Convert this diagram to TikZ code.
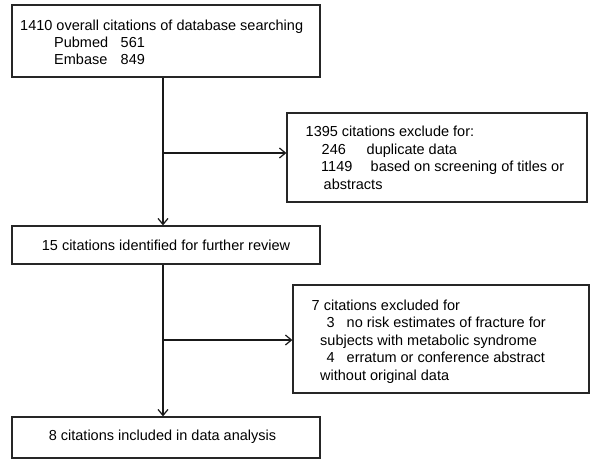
\documentclass[tikz,border=0pt]{standalone}
\usepackage{fontspec}
\setmainfont{Liberation Sans}
\usetikzlibrary{arrows.meta}
\begin{document}
\begin{tikzpicture}[x=1pt,y=-1pt,
  box/.style={draw=black!85,line width=1.3pt,inner sep=0pt,rectangle},
  txt/.style={inner sep=0pt,anchor=base west,font=\fontsize{14.5}{17.6}\selectfont},
  ctxt/.style={inner sep=0pt,anchor=base,font=\fontsize{14.5}{17.6}\selectfont},
  conn/.style={line width=1.3pt,draw=black!90,-{Straight Barb[length=6pt,width=10pt,line width=1.2pt]}}]
\useasboundingbox (0,0) rectangle (600,471);
% boxes
\node[box,minimum width=308pt,minimum height=72pt] (b1) at (166,41) {};
\node[box,minimum width=300pt,minimum height=89pt] (b2) at (437,157.5) {};
\node[box,minimum width=308pt,minimum height=38pt] (b3) at (166,245) {};
\node[box,minimum width=296pt,minimum height=108pt] (b4) at (441,339) {};
\node[box,minimum width=308pt,minimum height=41pt] (b5) at (166,437.5) {};
% box 1 text
\node[txt] (t1a) at (20,30.7) {1410 overall citations of database searching};
\node[txt] (t1b) at (54,47.7) {Pubmed};
\node[txt] (t1c) at (120.5,47.7) {561};
\node[txt] (t1d) at (54,64.7) {Embase};
\node[txt] (t1e) at (120.5,64.7) {849};
% box 2 text
\node[txt] (t2a) at (305.5,136.7) {1395 citations exclude for:};
\node[txt] (t2b) at (321.5,154.3) {246};
\node[txt] (t2c) at (366.5,154.3) {duplicate data};
\node[txt] (t2d) at (321,171.9) {1149};
\node[txt] (t2e) at (370.5,171.9) {based on screening of titles or};
\node[txt] (t2f) at (323.5,189.5) {abstracts};
% box 3 text
\node[ctxt] (t3) at (166,250.7) {15 citations identified for further review};
% box 4 text
\node[txt] (t4a) at (311.5,310) {7 citations excluded for};
\node[txt] (t4b) at (326.5,327.6) {3};
\node[txt] (t4c) at (346.5,327.6) {no risk estimates of fracture for};
\node[txt] (t4d) at (320,345.2) {subjects with metabolic syndrome};
\node[txt] (t4e) at (326.5,362.8) {4};
\node[txt] (t4f) at (346.5,362.8) {erratum or conference abstract};
\node[txt] (t4g) at (320,380.4) {without original data};
% box 5 text
\node[ctxt] (t5) at (162.5,440) {8 citations included in data analysis};
% connectors
\coordinate (s1) at (163,153);
\coordinate (s2) at (163,340);
\draw[conn] (b1.south -| s1) -- (b3.north -| s1);
\draw[conn] (s1) -- (s1 -| b2.west);
\draw[conn] (b3.south -| s2) -- (b5.north -| s2);
\draw[conn] (s2) -- (s2 -| b4.west);
\end{tikzpicture}
\end{document}
